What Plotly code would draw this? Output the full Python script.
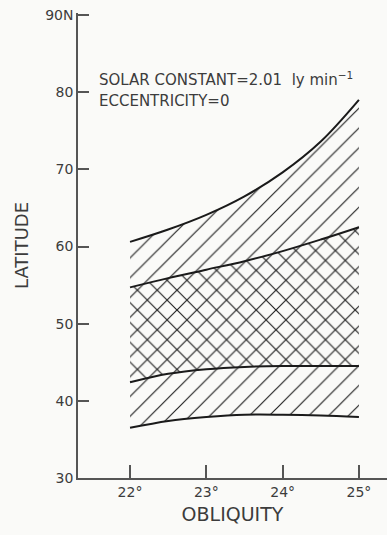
import plotly.graph_objects as go

obliquity = [22.0, 22.5, 23.0, 23.5, 24.0, 24.5, 25.0]
lat_top = [60.6, 62.2, 64.1, 66.5, 69.6, 73.6, 79.0]
lat_upper_mid = [54.7, 55.9, 57.0, 58.1, 59.4, 60.9, 62.5]
lat_lower_mid = [42.4, 43.5, 44.1, 44.4, 44.5, 44.5, 44.5]
lat_bottom = [36.5, 37.4, 37.9, 38.2, 38.2, 38.1, 37.9]

x_ticks = [22, 23, 24, 25]
x_ticklabels = ["22°", "23°", "24°", "25°"]
y_ticks = [30, 40, 50, 60, 70, 80, 90]
y_ticklabels = ["30", "40", "50", "60", "70", "80", "90N"]

line_col = "#1a1a1a"
hatch_col = "#222222"
axis_col = "#555555"
text_col = "#3c3c3c"
font_fam = "DejaVu Sans, sans-serif"

fig = go.Figure()

fig.add_trace(go.Scatter(x=obliquity, y=lat_bottom, mode="lines",
                         line=dict(color=line_col, width=2, shape="spline"),
                         hoverinfo="skip", showlegend=False))
fig.add_trace(go.Scatter(x=obliquity, y=lat_top, mode="lines",
                         line=dict(color=line_col, width=2, shape="spline"),
                         fill="tonexty", fillcolor="rgba(0,0,0,0)",
                         fillpattern=dict(shape="/", size=14, solidity=0.085,
                                          fgcolor=hatch_col, fgopacity=1,
                                          bgcolor="rgba(0,0,0,0)"),
                         hoverinfo="skip", showlegend=False))
fig.add_trace(go.Scatter(x=obliquity, y=lat_lower_mid, mode="lines",
                         line=dict(color=line_col, width=2, shape="spline"),
                         hoverinfo="skip", showlegend=False))
fig.add_trace(go.Scatter(x=obliquity, y=lat_upper_mid, mode="lines",
                         line=dict(color=line_col, width=2, shape="spline"),
                         fill="tonexty", fillcolor="rgba(0,0,0,0)",
                         fillpattern=dict(shape="\\", size=14, solidity=0.085,
                                          fgcolor=hatch_col, fgopacity=1,
                                          bgcolor="rgba(0,0,0,0)"),
                         hoverinfo="skip", showlegend=False))

fig.add_annotation(x=0.063, y=81.7, xref="paper", yref="y", xanchor="left",
                   yanchor="middle", showarrow=False,
                   text="SOLAR CONSTANT=2.01  ly min<sup>−1</sup>",
                   font=dict(family=font_fam, size=15, color=text_col))
fig.add_annotation(x=0.063, y=78.9, xref="paper", yref="y", xanchor="left",
                   yanchor="middle", showarrow=False,
                   text="ECCENTRICITY=0",
                   font=dict(family=font_fam, size=15, color=text_col))

fig.update_layout(
    width=387, height=535,
    margin=dict(l=78, r=0, t=13, b=57),
    paper_bgcolor="#fafaf8", plot_bgcolor="#fafaf8",
    font=dict(family=font_fam, color=text_col),
    xaxis=dict(range=[21.318, 25.368], tickvals=x_ticks, ticktext=x_ticklabels,
               ticks="inside", ticklen=13, tickwidth=1.5, tickcolor=axis_col,
               showline=True, linecolor=axis_col, linewidth=1.5,
               showgrid=False, zeroline=False,
               tickfont=dict(size=14, color=text_col),
               title=dict(text="OBLIQUITY", font=dict(size=19, color=text_col), standoff=9)),
    yaxis=dict(range=[30, 90.26], tickvals=y_ticks, ticktext=y_ticklabels,
               ticks="inside", ticklen=11, tickwidth=1.5, tickcolor=axis_col,
               showline=True, linecolor=axis_col, linewidth=1.5,
               showgrid=False, zeroline=False,
               tickfont=dict(size=14, color=text_col),
               title=dict(text="LATITUDE", font=dict(size=18, color=text_col), standoff=12)),
)

fig.write_html("out.html")
